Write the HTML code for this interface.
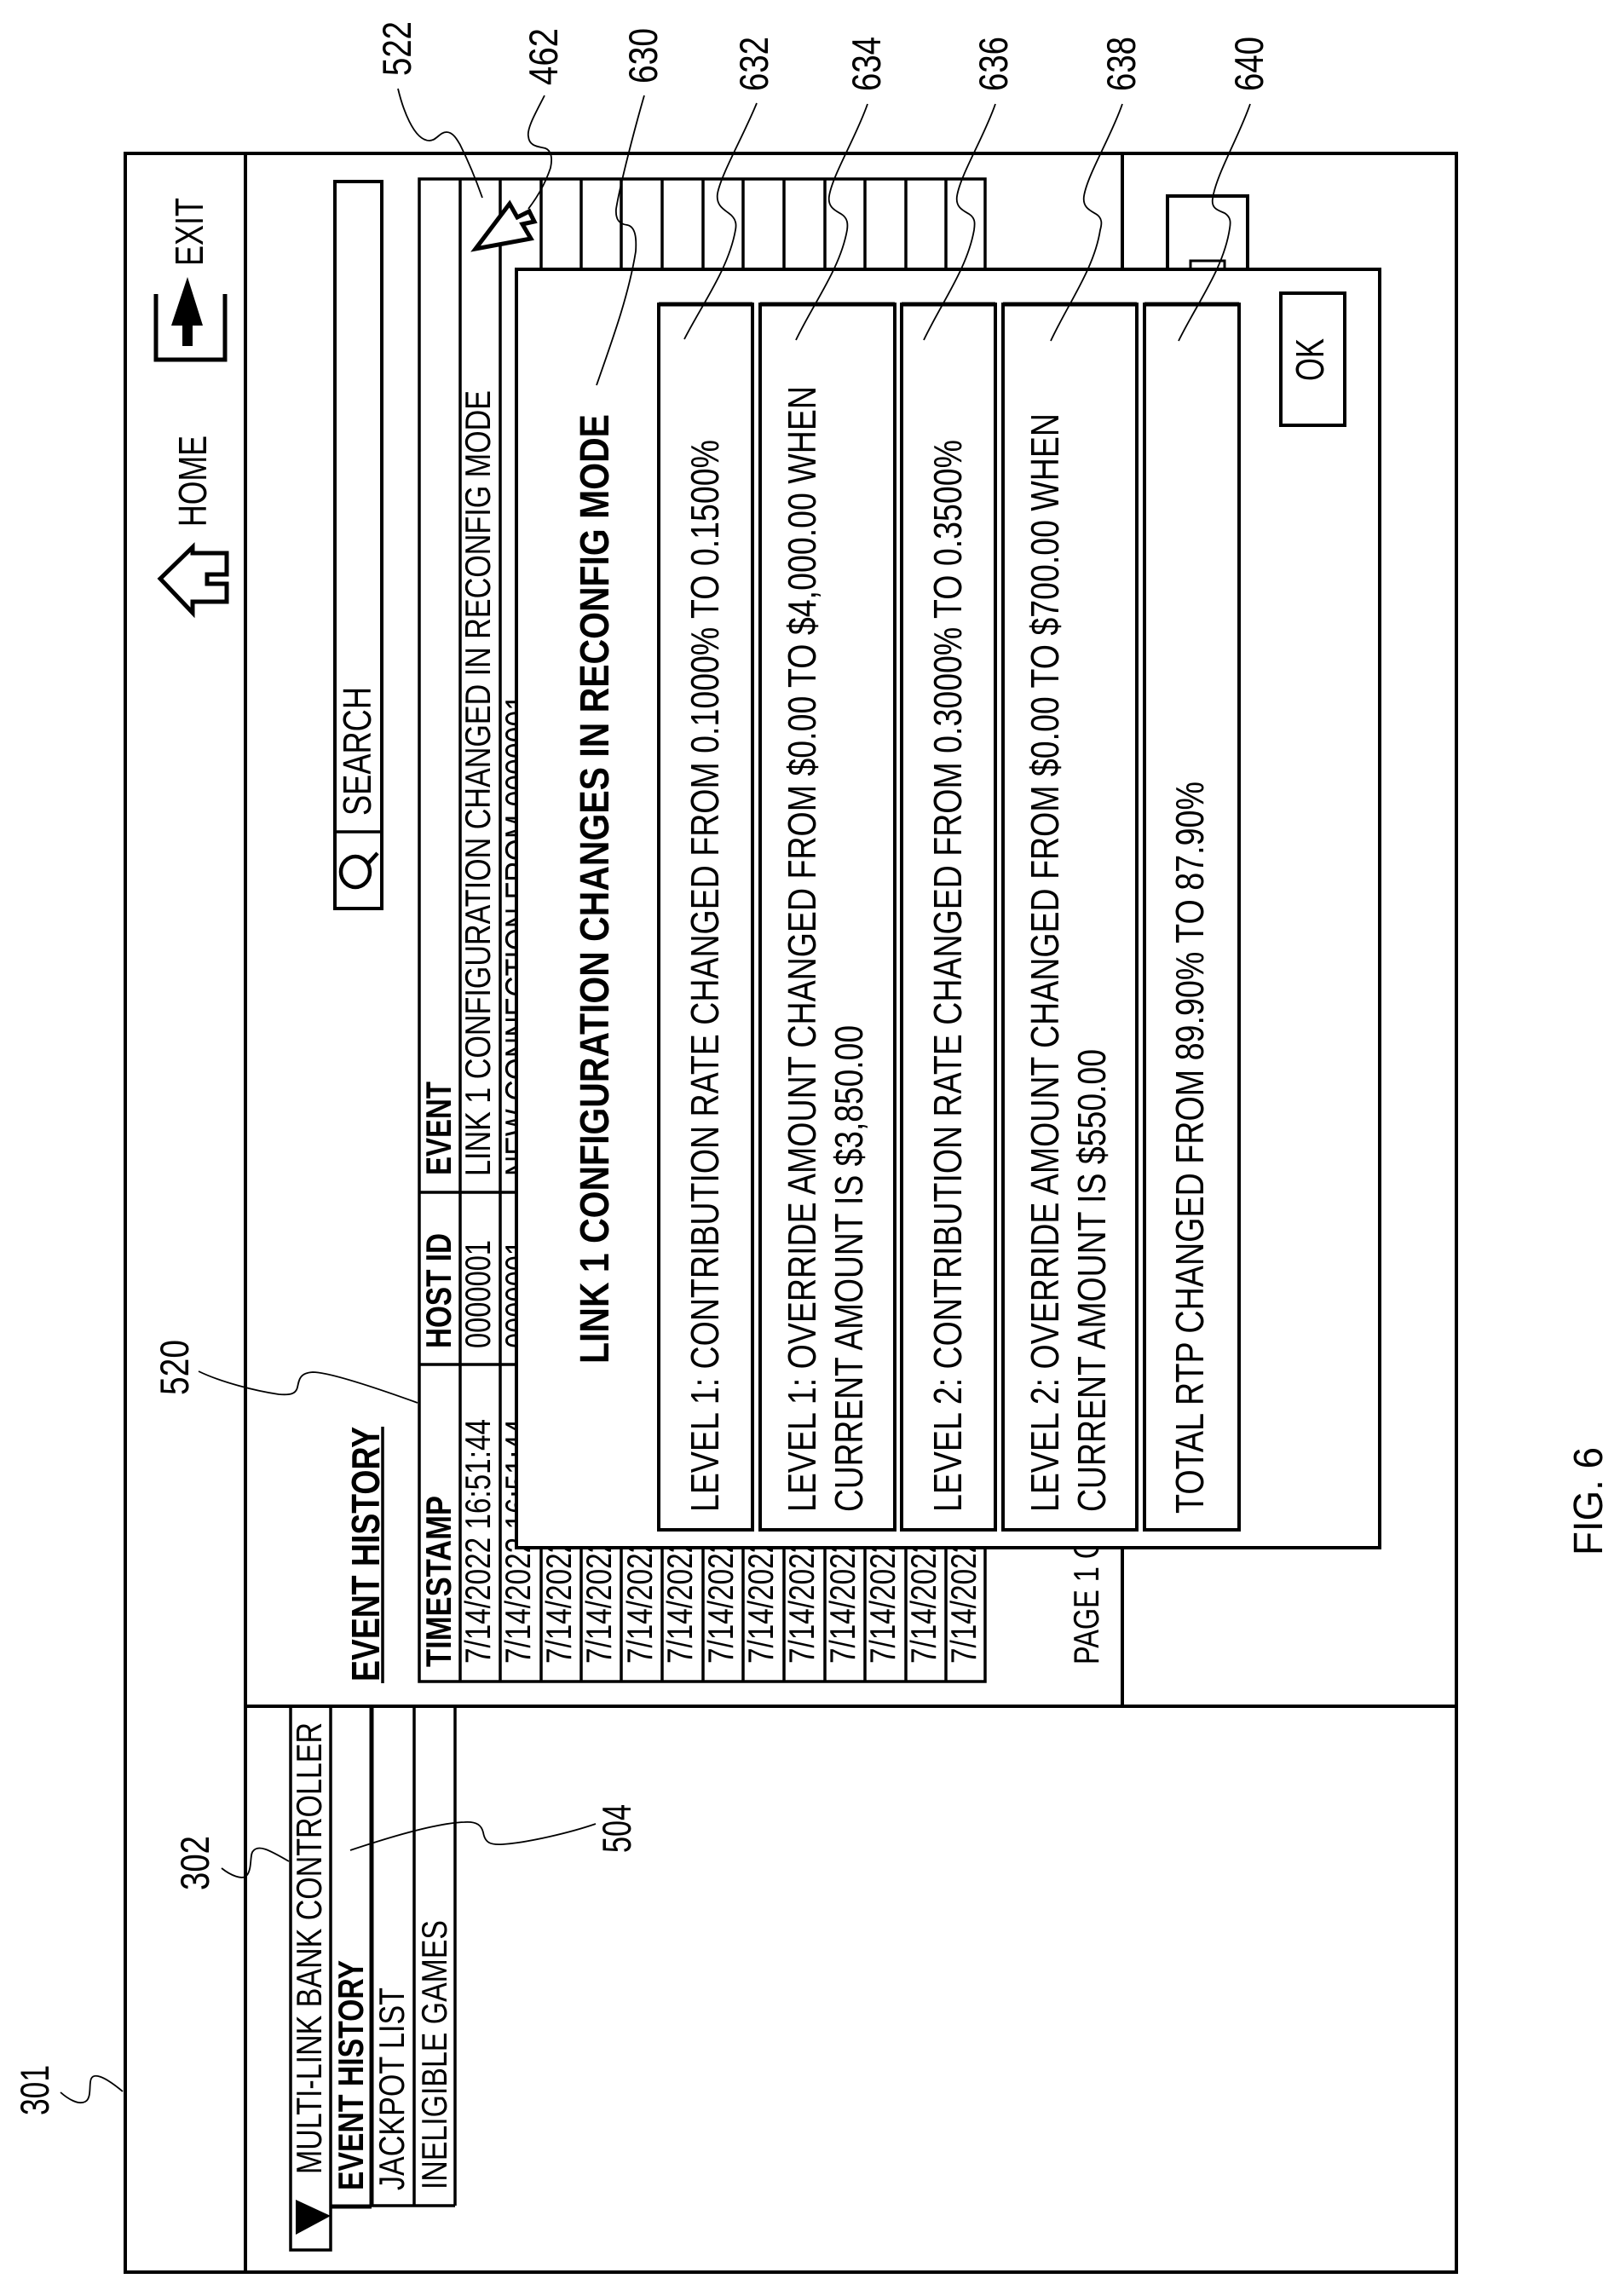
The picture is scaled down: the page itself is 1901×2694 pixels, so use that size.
<!DOCTYPE html>
<html><head><meta charset="utf-8"><style>
html,body{margin:0;padding:0;background:#fff}
svg{display:block}
text{font-family:"Liberation Sans",Arial,sans-serif;fill:#000}
.b{font-weight:bold}
.f46{font-size:46px}.f42{font-size:42px}.f47{font-size:47px}.f48{font-size:48px}
.l{fill:none;stroke:#000;stroke-width:4}
.t{fill:none;stroke:#000;stroke-width:3.5}
.w{fill:#fff;stroke:#000;stroke-width:4}
.n{fill:none;stroke:#000;stroke-width:1.8}
</style></head><body>
<svg xmlns="http://www.w3.org/2000/svg" width="1901" height="2694" viewBox="0 0 1901 2694">
<rect width="1901" height="2694" fill="#fff"/>
<!-- frame -->
<rect class="l" x="147" y="180" width="1562" height="2486"/>
<path class="l" d="M288 180V2666M288 2002H1709M1317 180V2002"/>
<!-- header icons -->
<text class="f46" transform="translate(238,312) rotate(-90)" textLength="80" lengthAdjust="spacingAndGlyphs">EXIT</text>
<path d="M183 345V422H264V345" fill="none" stroke="#000" stroke-width="5"/>
<path d="M220 325L238 382H226V406H214V382H201Z" fill="#000"/>
<text class="f46" transform="translate(242,618) rotate(-90)" textLength="107" lengthAdjust="spacingAndGlyphs">HOME</text>
<path d="M188 679L226 642V649H266V674H243V685H266V706H226V719Z" fill="#fff" stroke="#000" stroke-width="5"/>
<!-- search -->
<rect class="l" x="393" y="213" width="55" height="853"/>
<path class="t" d="M393 976H448"/>
<text class="f46" transform="translate(435,957) rotate(-90)" textLength="151" lengthAdjust="spacingAndGlyphs">SEARCH</text>
<ellipse cx="417" cy="1023" rx="17" ry="18" fill="none" stroke="#000" stroke-width="4.5"/>
<path d="M432 1013L443 1001" stroke="#000" stroke-width="4.5" fill="none"/>
<!-- page heading -->
<text class="f46 b" transform="translate(445,1973) rotate(-90)" textLength="299" lengthAdjust="spacingAndGlyphs">EVENT HISTORY</text>
<path d="M449 1674V1975" stroke="#000" stroke-width="3.5"/>
<!-- table -->
<rect class="t" x="492" y="210" width="664" height="1763"/>
<path class="t" d="M540 210V1973M587 210V1973M635 210V1973M682 210V1973M729 210V1973M777 210V1973M825 210V1973M872 210V1973M920 210V1973M968 210V1973M1015 210V1973M1063 210V1973M1110 210V1973"/>
<path class="t" d="M492 1601H1156M492 1399H1156"/>
<text class="f42 b" transform="translate(529,1956) rotate(-90)" textLength="201" lengthAdjust="spacingAndGlyphs">TIMESTAMP</text>
<text class="f42 b" transform="translate(529,1582) rotate(-90)" textLength="135" lengthAdjust="spacingAndGlyphs">HOST ID</text>
<text class="f42 b" transform="translate(529,1379) rotate(-90)" textLength="110" lengthAdjust="spacingAndGlyphs">EVENT</text>
<text class="f42" transform="translate(575,1952) rotate(-90)" textLength="287" lengthAdjust="spacingAndGlyphs">7/14/2022 16:51:44</text>
<text class="f42" transform="translate(622,1952) rotate(-90)" textLength="287" lengthAdjust="spacingAndGlyphs">7/14/2022 16:51:44</text>
<text class="f42" transform="translate(670,1952) rotate(-90)" textLength="287" lengthAdjust="spacingAndGlyphs">7/14/2022 16:51:44</text>
<text class="f42" transform="translate(717,1952) rotate(-90)" textLength="287" lengthAdjust="spacingAndGlyphs">7/14/2022 16:51:44</text>
<text class="f42" transform="translate(765,1952) rotate(-90)" textLength="287" lengthAdjust="spacingAndGlyphs">7/14/2022 16:51:44</text>
<text class="f42" transform="translate(812,1952) rotate(-90)" textLength="287" lengthAdjust="spacingAndGlyphs">7/14/2022 16:51:44</text>
<text class="f42" transform="translate(860,1952) rotate(-90)" textLength="287" lengthAdjust="spacingAndGlyphs">7/14/2022 16:51:44</text>
<text class="f42" transform="translate(907,1952) rotate(-90)" textLength="287" lengthAdjust="spacingAndGlyphs">7/14/2022 16:51:44</text>
<text class="f42" transform="translate(955,1952) rotate(-90)" textLength="287" lengthAdjust="spacingAndGlyphs">7/14/2022 16:51:44</text>
<text class="f42" transform="translate(1003,1952) rotate(-90)" textLength="287" lengthAdjust="spacingAndGlyphs">7/14/2022 16:51:44</text>
<text class="f42" transform="translate(1050,1952) rotate(-90)" textLength="287" lengthAdjust="spacingAndGlyphs">7/14/2022 16:51:44</text>
<text class="f42" transform="translate(1098,1952) rotate(-90)" textLength="287" lengthAdjust="spacingAndGlyphs">7/14/2022 16:51:44</text>
<text class="f42" transform="translate(1145,1952) rotate(-90)" textLength="287" lengthAdjust="spacingAndGlyphs">7/14/2022 16:51:44</text>
<text class="f42" transform="translate(575,1582) rotate(-90)" textLength="127" lengthAdjust="spacingAndGlyphs">0000001</text>
<text class="f42" transform="translate(622,1582) rotate(-90)" textLength="127" lengthAdjust="spacingAndGlyphs">0000001</text>
<text class="f42" transform="translate(575,1380) rotate(-90)" textLength="922" lengthAdjust="spacingAndGlyphs">LINK 1 CONFIGURATION CHANGED IN RECONFIG MODE</text>
<text class="f42" transform="translate(622,1380) rotate(-90)" textLength="565" lengthAdjust="spacingAndGlyphs">NEW CONNECTION FROM 0000001</text>
<!-- pagination + bottom panel -->
<text class="f42" transform="translate(1289,1953) rotate(-90)" textLength="196" lengthAdjust="spacingAndGlyphs">PAGE 1 OF 1</text>
<rect class="l" x="1370" y="230" width="94" height="120"/>
<rect x="1397" y="306" width="40" height="20" fill="#fff" stroke="#000" stroke-width="3"/>
<!-- cursor -->
<path d="M558 292L598 239L607 255L621 248L627 260L613 263L623 280Z" fill="#fff" stroke="#000" stroke-width="5"/>
<!-- dialog -->
<rect class="w" x="606" y="316" width="1013" height="1500"/>
<text class="f48 b" transform="translate(714,1600) rotate(-90)" textLength="1114" lengthAdjust="spacingAndGlyphs">LINK 1 CONFIGURATION CHANGES IN RECONFIG MODE</text>
<rect class="l" x="773" y="357" width="110" height="1438"/>
<rect class="l" x="892" y="357" width="158" height="1438"/>
<rect class="l" x="1058" y="357" width="110" height="1438"/>
<rect class="l" x="1177" y="357" width="157" height="1438"/>
<rect class="l" x="1343" y="357" width="111" height="1438"/>
<path d="M773 357H883M892 357H1050M1058 357H1168M1177 357H1334M1343 357H1454" stroke="#000" stroke-width="5"/>
<text class="f46" transform="translate(843,1774) rotate(-90)" textLength="1258" lengthAdjust="spacingAndGlyphs">LEVEL 1: CONTRIBUTION RATE CHANGED FROM 0.1000% TO 0.1500%</text>
<text class="f46" transform="translate(957,1774) rotate(-90)" textLength="1321" lengthAdjust="spacingAndGlyphs">LEVEL 1: OVERRIDE AMOUNT CHANGED FROM $0.00 TO $4,000.00 WHEN</text>
<text class="f46" transform="translate(1012,1774) rotate(-90)" textLength="571" lengthAdjust="spacingAndGlyphs">CURRENT AMOUNT IS $3,850.00</text>
<text class="f46" transform="translate(1128,1774) rotate(-90)" textLength="1258" lengthAdjust="spacingAndGlyphs">LEVEL 2: CONTRIBUTION RATE CHANGED FROM 0.3000% TO 0.3500%</text>
<text class="f46" transform="translate(1242,1774) rotate(-90)" textLength="1289" lengthAdjust="spacingAndGlyphs">LEVEL 2: OVERRIDE AMOUNT CHANGED FROM $0.00 TO $700.00 WHEN</text>
<text class="f46" transform="translate(1297,1774) rotate(-90)" textLength="543" lengthAdjust="spacingAndGlyphs">CURRENT AMOUNT IS $550.00</text>
<text class="f46" transform="translate(1412,1776) rotate(-90)" textLength="859" lengthAdjust="spacingAndGlyphs">TOTAL RTP CHANGED FROM 89.90% TO 87.90%</text>
<rect class="l" x="1503" y="344" width="75" height="155"/>
<text class="f46" transform="translate(1553,447) rotate(-90)" textLength="50" lengthAdjust="spacingAndGlyphs">OK</text>
<!-- sidebar -->
<path class="t" d="M341 2002V2640H388V2002"/>
<path class="t" d="M388 2589H436M436 2588H534M486 2002V2588M534 2002V2588"/>
<path d="M436 2002V2589" stroke="#000" stroke-width="5"/>
<path d="M388 2589H436" stroke="#000" stroke-width="5"/>
<path d="M347 2581V2622L388 2600Z" fill="#000"/>
<text class="f42" transform="translate(377,2551) rotate(-90)" textLength="530" lengthAdjust="spacingAndGlyphs">MULTI-LINK BANK CONTROLLER</text>
<text class="f42 b" transform="translate(426,2570) rotate(-90)" textLength="270" lengthAdjust="spacingAndGlyphs">EVENT HISTORY</text>
<text class="f42" transform="translate(474,2570) rotate(-90)" textLength="238" lengthAdjust="spacingAndGlyphs">JACKPOT LIST</text>
<text class="f42" transform="translate(524,2569) rotate(-90)" textLength="316" lengthAdjust="spacingAndGlyphs">INELIGIBLE GAMES</text>
<!-- reference numerals -->
<text class="f47" transform="translate(482,89) rotate(-90)" textLength="64" lengthAdjust="spacingAndGlyphs">522</text>
<text class="f47" transform="translate(654,100) rotate(-90)" textLength="67" lengthAdjust="spacingAndGlyphs">462</text>
<text class="f47" transform="translate(771,98) rotate(-90)" textLength="65" lengthAdjust="spacingAndGlyphs">630</text>
<text class="f47" transform="translate(901,107) rotate(-90)" textLength="64" lengthAdjust="spacingAndGlyphs">632</text>
<text class="f47" transform="translate(1033,107) rotate(-90)" textLength="64" lengthAdjust="spacingAndGlyphs">634</text>
<text class="f47" transform="translate(1182,107) rotate(-90)" textLength="64" lengthAdjust="spacingAndGlyphs">636</text>
<text class="f47" transform="translate(1332,107) rotate(-90)" textLength="64" lengthAdjust="spacingAndGlyphs">638</text>
<text class="f47" transform="translate(1482,107) rotate(-90)" textLength="64" lengthAdjust="spacingAndGlyphs">640</text>
<text class="f47" transform="translate(221,1637) rotate(-90)" textLength="65" lengthAdjust="spacingAndGlyphs">520</text>
<text class="f47" transform="translate(245,2218) rotate(-90)" textLength="64" lengthAdjust="spacingAndGlyphs">302</text>
<text class="f47" transform="translate(57,2482) rotate(-90)" textLength="59" lengthAdjust="spacingAndGlyphs">301</text>
<text class="f47" transform="translate(740,2174) rotate(-90)" textLength="57" lengthAdjust="spacingAndGlyphs">504</text>
<text class="f48" transform="translate(1880,1825) rotate(-90)" textLength="127" lengthAdjust="spacingAndGlyphs">FIG. 6</text>
<!-- leaders -->
<path class="n" d="M467 104C472 125 485 165 504 165C512 165 516 155 524 155C532 155 537 165 540 170C550 190 560 215 566 232"/>
<path class="n" d="M639 112C630 130 618 150 620 160C621 172 632 172 640 174C648 177 648 188 646 197C640 215 630 232 620 245"/>
<path class="n" d="M756 112C745 150 728 215 723 245C722 258 727 263 736 264C746 266 747 280 746 295C738 345 720 395 700 452"/>
<path class="n" d="M888 121C872 160 846 205 842 227C840 240 848 245 855 250C865 257 864 265 863 270C855 315 825 355 803 398"/>
<path class="n" d="M1018 122C1005 160 977 205 973 230C971 243 980 247 987 251C995 256 995 263 994 270C986 315 955 355 934 399"/>
<path class="n" d="M1168 122C1155 160 1127 205 1123 230C1121 243 1130 247 1137 251C1145 256 1144 263 1143 270C1135 315 1105 355 1084 399"/>
<path class="n" d="M1317 122C1304 160 1276 205 1272 230C1270 243 1279 247 1286 251C1294 256 1293 263 1291 270C1284 315 1254 355 1233 400"/>
<path class="n" d="M1467 122C1454 160 1427 205 1423 233C1421 245 1430 247 1437 250C1445 255 1444 262 1443 268C1436 315 1405 355 1383 400"/>
<path class="n" d="M233 1609C260 1622 300 1632 327 1636C340 1637 347 1636 349 1628C351 1618 352 1611 367 1610C385 1610 440 1628 490 1646"/>
<path class="n" d="M260 2192C270 2200 285 2207 290 2200C296 2192 293 2175 297 2172C303 2164 315 2170 339 2184"/>
<path class="n" d="M411 2171C450 2158 510 2139 545 2138C560 2137 565 2142 567 2150C569 2162 575 2165 590 2164C620 2162 670 2150 699 2140"/>
<path class="n" d="M71 2455C80 2463 92 2470 100 2466C108 2462 104 2445 107 2439C110 2433 120 2434 144 2454"/>
</svg>
</body></html>
